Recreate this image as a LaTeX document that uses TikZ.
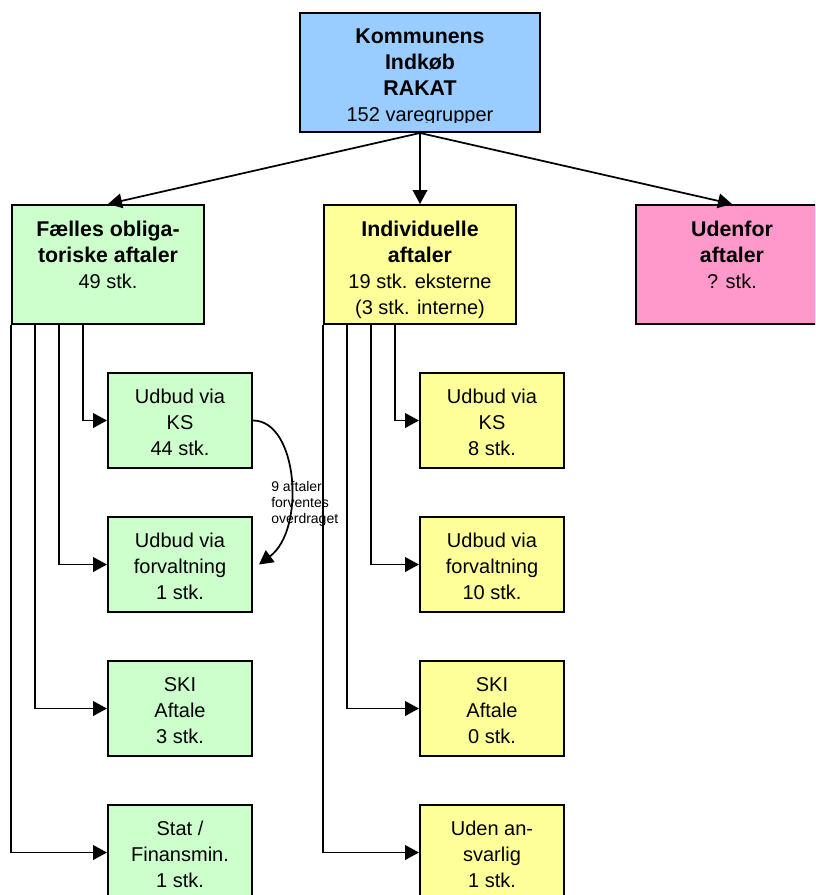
\documentclass[tikz,border=0pt]{standalone}
\usepackage{fontspec}
\setmainfont{Liberation Sans}
\usetikzlibrary{arrows.meta,calc}
\definecolor{cblue}{RGB}{153,204,255}
\definecolor{cgreen}{RGB}{204,255,204}
\definecolor{cyellow}{RGB}{255,255,153}
\definecolor{cpink}{RGB}{255,153,204}
\newcommand\bl[1]{{\fontsize{16}{19.5}\selectfont\bfseries #1}}
\begin{document}
\begin{tikzpicture}[x=0.75pt,y=-0.75pt,
  bx/.style={draw, line width=1.5pt, inner sep=0pt},
  tbox/.style={bx, minimum width=180pt, minimum height=89.25pt},
  pbox/.style={bx, minimum width=144pt, minimum height=89.25pt},
  cbox/.style={bx, minimum width=108pt, minimum height=71.25pt},
  txt/.style={align=center, inner sep=0pt, anchor=north, font=\fontsize{15}{19.5}\selectfont},
  arr/.style={line width=1.3pt, -{Triangle[length=10.5pt,width=11pt]}},
  small/.style={anchor=north west, align=left, inner sep=0pt, font=\fontsize{10.5}{12}\selectfont}]
\useasboundingbox (0,0) rectangle (815,895);
\clip (0,0) rectangle (815,895);
% top box
\node[tbox, fill=cblue] (top) at (420,72.5) {};
\begin{scope}
\clip (301,14) rectangle (539,123);
\node[txt] (ttop) at ($(top.north)+(0,17)$) {\bl{Kommunens}\\\bl{Indkøb}\\\bl{RAKAT}\\152 varegrupper};
\end{scope}
% parents
\node[pbox, fill=cgreen] (fo) at (108,264.5) {};
\node[txt] (tfo) at ($(fo.north)+(0,17)$) {\bl{Fælles obliga-}\\\bl{toriske aftaler}\\49 stk.};
\node[pbox, fill=cyellow] (in) at (420,264.5) {};
\node[txt] (tin) at ($(in.north)+(0,17)$) {\bl{Individuelle}\\\bl{aftaler}\\19 stk. eksterne\\(3 stk. interne)};
\node[pbox, fill=cpink] (ud) at (732,264.5) {};
\node[txt] (tud) at ($(ud.north)+(0,17)$) {\bl{Udenfor}\\\bl{aftaler}\\? stk.};
% green children
\node[cbox, fill=cgreen] (g1) at (180,420.5) {};
\node[txt] (tg1) at ($(g1.north)+(0,17)$) {Udbud via\\KS\\44 stk.};
\node[cbox, fill=cgreen] (g2) at (180,564.5) {};
\node[txt] (tg2) at ($(g2.north)+(0,17)$) {Udbud via\\forvaltning\\1 stk.};
\node[cbox, fill=cgreen] (g3) at (180,708.5) {};
\node[txt] (tg3) at ($(g3.north)+(0,17)$) {SKI\\Aftale\\3 stk.};
\node[cbox, fill=cgreen] (g4) at (180,852.5) {};
\node[txt] (tg4) at ($(g4.north)+(0,17)$) {Stat /\\Finansmin.\\1 stk.};
% yellow children
\node[cbox, fill=cyellow] (y1) at (492,420.5) {};
\node[txt] (ty1) at ($(y1.north)+(0,17)$) {Udbud via\\KS\\8 stk.};
\node[cbox, fill=cyellow] (y2) at (492,564.5) {};
\node[txt] (ty2) at ($(y2.north)+(0,17)$) {Udbud via\\forvaltning\\10 stk.};
\node[cbox, fill=cyellow] (y3) at (492,708.5) {};
\node[txt] (ty3) at ($(y3.north)+(0,17)$) {SKI\\Aftale\\0 stk.};
\node[cbox, fill=cyellow] (y4) at (492,852.5) {};
\node[txt] (ty4) at ($(y4.north)+(0,17)$) {Uden an-\\svarlig\\1 stk.};
% top arrows
\draw[arr] (top.south) -- (fo.north);
\draw[arr] (top.south) -- (in.north);
\draw[arr] (top.south) -- (ud.north);
% green connectors
\draw[arr] ([xshift=54pt]fo.south west) |- (g1.west);
\draw[arr] ([xshift=36pt]fo.south west) |- (g2.west);
\draw[arr] ([xshift=18pt]fo.south west) |- (g3.west);
\draw[arr] (fo.south west) |- (g4.west);
% yellow connectors
\draw[arr] ([xshift=54pt]in.south west) |- (y1.west);
\draw[arr] ([xshift=36pt]in.south west) |- (y2.west);
\draw[arr] ([xshift=18pt]in.south west) |- (y3.west);
\draw[arr] (in.south west) |- (y4.west);
% curved arrow
\coordinate (cend) at ([xshift=4.5pt]g2.east);
\draw[arr] (g1.east) .. controls +(45,0) and +(47,-35) .. (cend);
\node[small] (lbl) at (271,481) {9 aftaler\\forventes\\overdraget};
\end{tikzpicture}
\end{document}
